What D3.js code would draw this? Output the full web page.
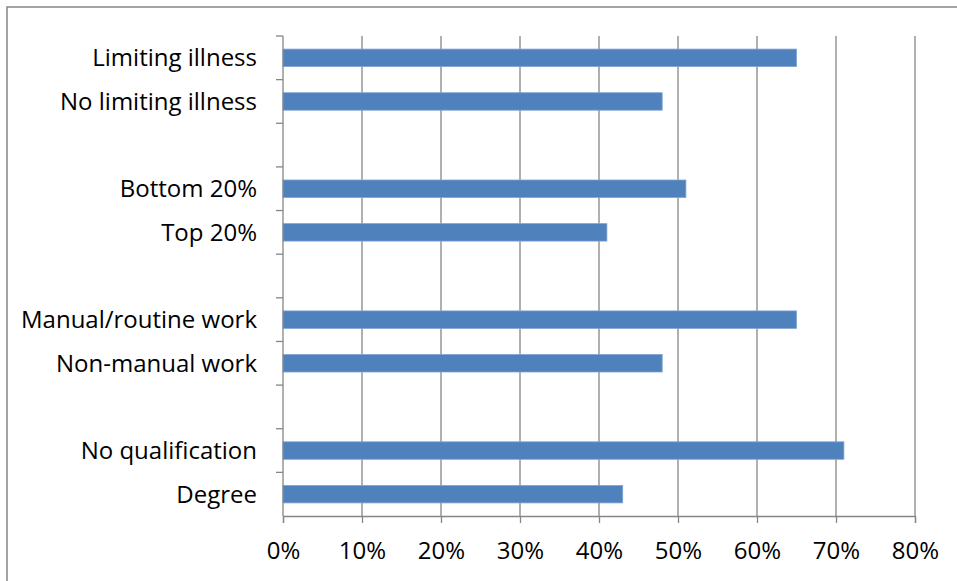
<!DOCTYPE html>
<html>
<head>
<meta charset="utf-8">
<script src="https://cdn.jsdelivr.net/npm/d3@7"></script>
<style>
  html, body { margin: 0; padding: 0; background: #fff; }
  svg { display: block; }
  text { font-family: "Open Sans", Lato, sans-serif; fill: #000; }
</style>
</head>
<body>
<svg id="chart" width="957" height="581"></svg>
<script>
// Group labels from top to bottom; empty strings are spacer rows between groups
const categories = [
  "Limiting illness", "No limiting illness", "",
  "Bottom 20%", "Top 20%", "",
  "Manual/routine work", "Non-manual work", "",
  "No qualification", "Degree"
];
const values = [65, 48, null, 51, 41, null, 65, 48, null, 71, 43];
const xTicks = [0, 10, 20, 30, 40, 50, 60, 70, 80];

const svg = d3.select("#chart");
const W = 957, H = 581;
const margin = { left: 283, right: 42, top: 36, bottom: 65 };
const innerW = W - margin.left - margin.right;
const innerH = H - margin.top - margin.bottom;
const fontSize = 24;

// Outer frame
svg.append("rect")
  .attr("x", 7).attr("y", 7)
  .attr("width", 1000).attr("height", 1000)
  .attr("fill", "none")
  .attr("stroke", "#868686")
  .attr("stroke-width", 1.5);

const g = svg.append("g").attr("transform", `translate(${margin.left},${margin.top})`);

const x = d3.scaleLinear().domain([0, 80]).range([0, innerW]);
const y = d3.scaleBand().domain(d3.range(categories.length)).range([0, innerH]).paddingInner(0.6).paddingOuter(0.3);
const yBounds = d3.scaleLinear().domain([0, categories.length]).range([0, innerH]);

// Vertical gridlines
g.append("g")
  .selectAll("line")
  .data(xTicks.slice(1))
  .join("line")
  .attr("x1", d => x(d)).attr("x2", d => x(d))
  .attr("y1", 0).attr("y2", innerH)
  .attr("stroke", "#868686")
  .attr("stroke-width", 1.3);

// Bars
g.append("g")
  .selectAll("rect")
  .data(values.map((v, i) => ({ v, i })).filter(d => d.v !== null))
  .join("rect")
  .attr("x", x(0))
  .attr("y", d => y(d.i))
  .attr("width", d => x(d.v) - x(0))
  .attr("height", y.bandwidth())
  .attr("fill", "#4F81BD")
  .attr("stroke", "#7EA3D2")
  .attr("stroke-width", 0.8);

// Category axis (left) with tick marks between rows
const yAxis = g.append("g");
yAxis.append("line")
  .attr("x1", 0).attr("x2", 0).attr("y1", 0).attr("y2", innerH)
  .attr("stroke", "#868686").attr("stroke-width", 1.3);
yAxis.selectAll("line.tick")
  .data(d3.range(categories.length))
  .join("line")
  .attr("class", "tick")
  .attr("x1", -7).attr("x2", 0)
  .attr("y1", d => yBounds(d)).attr("y2", d => yBounds(d))
  .attr("stroke", "#868686").attr("stroke-width", 1.3);
yAxis.selectAll("text")
  .data(categories.map((c, i) => ({ c, i })).filter(d => d.c !== ""))
  .join("text")
  .attr("x", -26)
  .attr("y", d => y(d.i) + y.bandwidth() / 2)
  .attr("dy", "0.36em")
  .attr("text-anchor", "end")
  .attr("font-size", fontSize)
  .text(d => d.c);

// Value axis (bottom)
const xAxis = g.append("g")
  .attr("transform", `translate(0,${innerH})`)
  .call(d3.axisBottom(x).tickValues(xTicks).tickSize(7).tickPadding(19).tickFormat(d => d + "%"));
xAxis.select(".domain").attr("stroke", "#868686").attr("stroke-width", 1.3);
xAxis.selectAll(".tick line").attr("stroke", "#868686").attr("stroke-width", 1.3);
xAxis.selectAll(".tick text")
  .attr("font-size", fontSize)
  .attr("font-family", "'Open Sans', Lato, sans-serif")
  .attr("fill", "#000");
</script>
</body>
</html>
